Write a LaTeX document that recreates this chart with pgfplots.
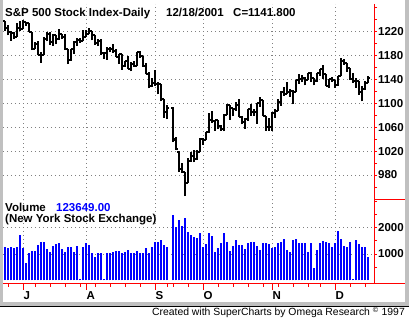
\documentclass[border=0pt]{standalone}
\usepackage{pgfplots}
\pgfplotsset{compat=1.18}
\usepackage{pgfplotstable}
\usepackage{fontspec}
\setmainfont{Liberation Sans}
\definecolor{framegray}{RGB}{192,192,192}
\definecolor{volblue}{RGB}{0,0,255}
\definecolor{axred}{RGB}{255,0,0}
\definecolor{dotgray}{RGB}{128,128,128}
\newcommand{\lab}{\bfseries\fontsize{11.5}{12}\selectfont}

% daily bars, slot i = trading day (slot 55 left empty)
\pgfplotstableread{
i o h l c
0 1237.0 1237.7 1221.4 1225.4
1 1225.4 1231.5 1213.6 1218.6
2 1218.6 1220.7 1204.6 1216.8
3 1216.8 1219.9 1207.3 1211.1
4 1211.1 1234.4 1211.1 1226.2
5 1226.2 1237.3 1221.1 1224.4
6 1224.4 1239.8 1224.0 1236.7
7 1236.7 1236.7 1229.4 1234.5
8 1234.5 1234.5 1219.1 1219.2
9 1219.2 1219.2 1188.7 1190.6
10 1190.6 1201.8 1190.6 1198.8
11 1198.8 1203.4 1179.9 1181.5
12 1181.5 1184.9 1167.9 1180.2
13 1180.2 1210.3 1180.2 1208.1
14 1208.1 1218.5 1203.6 1215.7
15 1215.7 1219.6 1197.7 1202.5
16 1202.5 1215.4 1196.1 1214.4
17 1214.4 1214.4 1198.3 1207.7
18 1207.7 1225.0 1205.8 1215.0
19 1215.0 1215.7 1207.0 1210.9
20 1210.9 1215.2 1189.4 1191.0
21 1191.0 1191.0 1165.5 1171.7
22 1171.7 1190.5 1171.3 1190.5
23 1190.5 1204.2 1182.7 1202.9
24 1202.9 1209.3 1195.9 1205.8
25 1205.8 1209.1 1200.7 1204.5
26 1204.5 1222.7 1204.5 1211.2
27 1211.2 1223.0 1211.2 1215.9
28 1215.9 1226.3 1215.3 1220.8
29 1220.8 1220.8 1205.3 1214.4
30 1214.4 1214.4 1197.4 1200.5
31 1200.5 1207.6 1195.6 1204.4
32 1204.4 1206.8 1181.3 1183.5
33 1183.5 1184.7 1174.7 1183.4
34 1183.4 1193.3 1173.0 1190.2
35 1190.2 1193.8 1185.1 1191.3
36 1191.3 1198.8 1184.3 1186.7
37 1186.7 1191.2 1177.6 1178.0
38 1178.0 1181.8 1166.1 1181.7
39 1181.7 1181.7 1156.1 1162.0
40 1162.0 1171.4 1160.9 1171.4
41 1171.4 1179.0 1156.9 1157.3
42 1157.3 1168.6 1153.3 1165.3
43 1165.3 1169.9 1160.9 1162.1
44 1162.1 1185.2 1162.1 1184.9
45 1184.9 1186.9 1176.0 1179.2
46 1179.2 1179.7 1161.2 1161.5
47 1161.5 1166.9 1148.3 1148.6
48 1148.6 1151.8 1124.9 1129.0
49 1129.0 1141.8 1126.4 1133.6
50 1133.6 1155.4 1129.1 1132.9
51 1132.9 1135.5 1114.9 1131.7
52 1131.7 1131.7 1103.0 1106.4
53 1106.4 1106.4 1076.0 1085.8
54 1085.8 1096.9 1073.2 1092.5
56 1092.5 1093.5 1035.0 1038.8
57 1040.0 1043.0 1022.0 1023.0
58 1019.0 1020.0 985.0 990.0
59 990.0 1000.0 984.0 984.5
60 984.5 985.0 944.8 965.8
61 965.8 1008.4 965.8 1003.4
62 1003.4 1018.0 1002.0 1012.3
63 1012.3 1022.0 1001.0 1007.0
64 1007.0 1021.0 1005.0 1018.6
65 1018.6 1042.0 1018.6 1040.9
66 1040.9 1042.0 1030.0 1038.6
67 1038.6 1052.0 1038.0 1051.3
68 1051.3 1084.0 1051.0 1072.3
69 1072.3 1087.0 1067.8 1069.6
70 1069.6 1072.4 1053.5 1071.4
71 1071.4 1071.4 1056.9 1062.4
72 1062.4 1063.6 1053.8 1056.8
73 1056.8 1081.6 1052.8 1081.0
74 1081.0 1099.2 1081.0 1097.4
75 1097.4 1097.4 1072.2 1091.7
76 1091.7 1091.7 1078.2 1090.0
77 1090.0 1101.7 1087.1 1097.5
78 1097.5 1107.1 1076.6 1077.1
79 1077.1 1077.9 1064.5 1068.6
80 1068.6 1075.5 1057.2 1073.5
81 1073.5 1090.6 1070.8 1089.9
82 1089.9 1098.9 1079.0 1084.8
83 1084.8 1090.3 1079.0 1085.2
84 1085.2 1100.1 1065.6 1100.1
85 1100.1 1110.6 1094.2 1104.6
86 1104.6 1104.6 1078.3 1078.3
87 1078.3 1078.3 1053.6 1059.8
88 1059.8 1074.8 1054.4 1059.8
89 1059.8 1085.6 1054.3 1084.1
90 1084.1 1089.6 1075.6 1087.2
91 1087.2 1106.4 1087.2 1102.8
92 1102.8 1119.7 1095.4 1118.9
93 1118.9 1126.6 1112.9 1115.8
94 1115.8 1135.8 1115.4 1118.5
95 1118.5 1123.0 1111.1 1120.3
96 1120.3 1121.9 1098.3 1118.3
97 1118.3 1139.1 1118.3 1139.1
98 1139.1 1148.3 1132.9 1141.2
99 1141.2 1146.5 1135.1 1142.2
100 1142.2 1143.5 1129.9 1138.7
101 1138.7 1151.1 1138.7 1151.1
102 1151.1 1152.4 1135.2 1142.7
103 1142.7 1142.7 1129.8 1137.0
104 1137.0 1151.1 1135.9 1150.3
105 1150.3 1157.9 1146.2 1157.4
106 1157.4 1163.4 1140.8 1149.5
107 1149.5 1149.5 1128.3 1128.5
108 1128.5 1140.4 1125.5 1140.2
109 1140.2 1143.6 1135.9 1139.5
110 1139.5 1139.5 1125.8 1129.9
111 1129.9 1144.8 1128.9 1144.8
112 1144.8 1175.0 1144.8 1170.4
113 1170.4 1173.4 1164.4 1167.1
114 1167.1 1167.1 1152.7 1158.3
115 1158.3 1158.3 1139.7 1139.9
116 1139.9 1150.9 1134.3 1136.8
117 1136.8 1141.6 1126.0 1137.1
118 1137.1 1137.1 1114.0 1119.4
119 1119.4 1128.3 1103.0 1123.1
120 1123.1 1137.0 1122.7 1134.4
121 1134.4 1145.1 1134.4 1141.8
}\price

% NYSE volume (millions), same slots
\pgfplotstableread{
i v
0 1277
1 1214
2 1277
3 1239
4 1277
5 1717
6 1214
7 673
8 1025
9 1126
10 1126
11 1340
12 1440
13 1440
14 1189
15 1088
16 1314
17 1377
18 1403
19 1189
20 1088
21 1277
22 1277
23 1063
24 1314
25 40
26 1277
27 1403
28 1340
29 1025
30 874
31 1025
32 1025
33 57
34 1025
35 1025
36 1088
37 1126
38 1126
39 1025
40 1088
41 1151
42 1025
43 1050
44 1126
45 1025
46 1025
47 1239
48 1025
49 1277
50 1440
51 1440
52 1528
53 1340
54 1277
56 2472
57 2031
58 2283
59 2057
60 2346
61 1843
62 1717
63 1654
64 1591
65 1780
66 1277
67 1365
68 1780
69 1692
70 1063
71 1239
72 1403
73 1780
74 1440
75 1126
76 1314
77 1528
78 1340
79 1340
80 1189
81 1403
82 1440
83 1440
84 1314
85 1151
86 1403
87 1403
88 1377
89 1214
90 1277
91 1403
92 1465
93 1566
94 1151
95 1063
96 1528
97 1566
98 1403
99 1403
100 1403
101 1063
102 1403
103 459
104 1151
105 1403
106 1491
107 1465
108 1403
109 1277
110 1403
111 1868
112 1566
113 1314
114 1277
115 1465
116 57
117 1528
118 1365
119 1277
120 1277
121 900
}\vol

\begin{document}
\begin{tikzpicture}
\useasboundingbox (0,0) rectangle (409pt,320pt);
\fill[white] (0,0) rectangle (409pt,320pt);

\pgfplotsset{
 every axis/.append style={
  /pgf/number format/set thousands separator={},
  /pgf/number format/assume math mode=true,
 }
}

% price pane
\begin{axis}[
 at={(3pt,120pt)},anchor=south west,scale only axis,
 width=371pt,height=196pt,
 xmin=-0.6667,xmax=123,ymin=938.2,ymax=1266,
 axis x line*=bottom,axis y line*=right,
 axis line style={draw=none},
 xtick={6,27,50,66,89,110},xticklabels={},
 every major x tick/.append style={draw=none},
 ytick={980,1020,...,1220},minor ytick={960,980,...,1260},
 every major y tick/.append style={draw=none},
 every minor y tick/.append style={axred,line width=0.9pt},
 tick align=outside,major tick length=3pt,minor tick length=3pt,
 yticklabel style={font=\lab,inner sep=0pt,xshift=1pt},
 grid=major,grid style={dotgray,line width=0.8pt,dash pattern=on 0.8pt off 3.2pt},
]
\addplot[black,line width=2pt,quiver={u=0,v=\thisrow{h}-\thisrow{l}}] table[x=i,y=l] {\price};
\addplot[black,line width=2pt,quiver={u=-0.6,v=0}] table[x=i,y=o] {\price};
\addplot[black,line width=2pt,quiver={u=0.6,v=0}] table[x=i,y=c] {\price};
\end{axis}

% volume pane
\begin{axis}[
 at={(3pt,36pt)},anchor=south west,scale only axis,
 width=371pt,height=84pt,
 xmin=-0.6667,xmax=123,ymin=-132,ymax=3038,
 axis x line*=bottom,axis y line*=right,
 axis line style={draw=none},
 xtick={6,27,50,66,89,110},xticklabels={J,A,S,O,N,D},
 minor xtick={1,10,15,20,25,30,35,40,45,54,56,61,71,76,81,86,91,96,101,105,115,120},
 every major x tick/.append style={axred,line width=0.9pt},
 every minor x tick/.append style={axred,line width=0.9pt},
 ytick={1000,2000},minor ytick={500,1000,...,3000},
 every major y tick/.append style={draw=none},
 every minor y tick/.append style={axred,line width=0.9pt},
 tick align=outside,major tick length=6pt,minor tick length=3pt,
 xticklabel style={font=\lab,anchor=north west,inner sep=0pt,xshift=0.5pt,yshift=-1pt},
 yticklabel style={font=\lab,inner sep=0pt,xshift=-2pt},
 grid=major,grid style={dotgray,line width=0.8pt,dash pattern=on 0.8pt off 3.2pt},
]
\addplot[ycomb,volblue,line width=2pt] table[x=i,y=v] {\vol};
\end{axis}

% frame and axis lines
\draw[axred,line width=1pt] (374pt,316pt) -- (374pt,36pt);
\draw[axred,line width=1pt] (3pt,36pt) -- (405pt,36pt);
\draw[axred,line width=1pt] (374pt,120pt) -- (405pt,120pt);
\fill[framegray] (0,13pt) rectangle (3pt,320pt);
\fill[framegray] (405pt,13pt) rectangle (409pt,320pt);
\fill[framegray] (0,14pt) rectangle (409pt,18pt);
\draw[black,line width=1pt] (0,13.5pt) -- (409pt,13.5pt);

% texts
\node[anchor=base west,inner sep=0pt,font=\lab] at (5pt,303.3pt) {S\&P 500 Stock Index-Daily};
\node[anchor=base west,inner sep=0pt,font=\lab] at (166pt,303.3pt) {12/18/2001};
\node[anchor=base west,inner sep=0pt,font=\lab] at (233pt,303.3pt) {C=1141.800};
\node[anchor=base west,inner sep=0pt,font=\lab] at (5pt,108pt) {Volume};
\node[anchor=base west,inner sep=0pt,font=\lab,text=volblue] at (56pt,108pt) {123649.00};
\node[anchor=base west,inner sep=0pt,font=\lab] at (5pt,97pt) {(New York Stock Exchange)};
\node[anchor=base east,inner sep=0pt,font=\fontsize{10.4}{11}\selectfont] at (405pt,4pt) {Created with SuperCharts by Omega Research \textsuperscript{\textcopyright} 1997};
\end{tikzpicture}
\end{document}
